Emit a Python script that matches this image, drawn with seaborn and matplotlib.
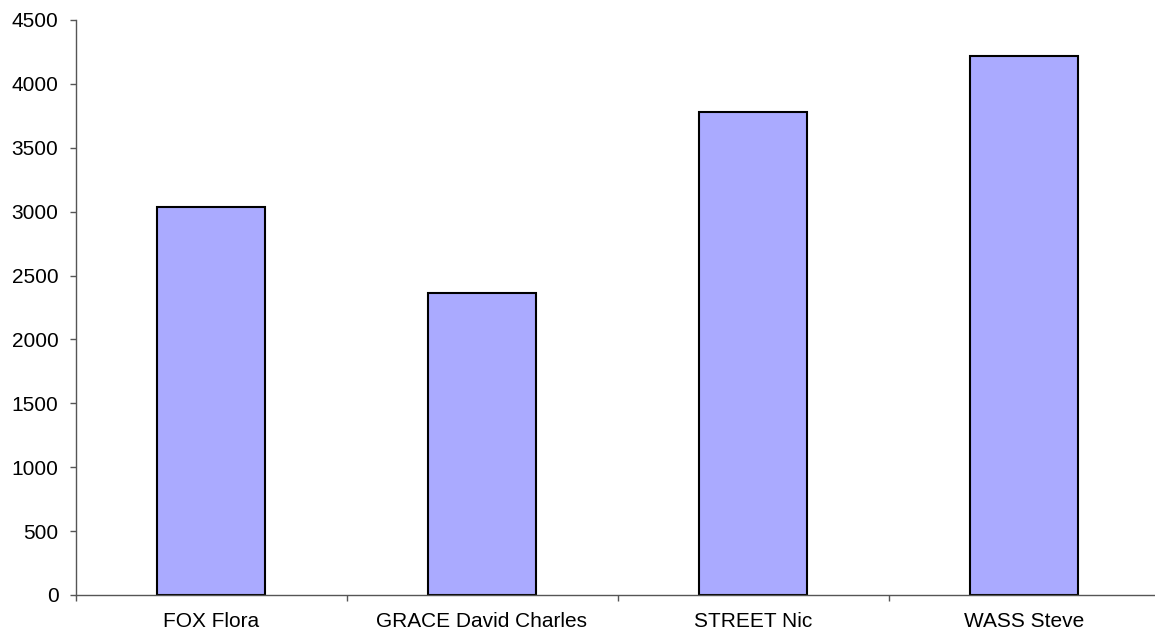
import numpy as np
import pandas as pd
import seaborn as sns
import matplotlib.pyplot as plt
from matplotlib.ticker import FixedLocator, MultipleLocator


#données du graphique
noms = ['FOX Flora', 'GRACE David Charles', 'STREET Nic', 'WASS Steve']
valeurs = [3040, 2360, 3780, 4215]

df = pd.DataFrame({'nom': noms, 'valeur': valeurs})

sns.set_style('white')
plt.rcParams['font.family'] = ['Liberation Sans', 'DejaVu Sans']
plt.rcParams['text.color'] = 'black'
plt.rcParams['xtick.color'] = 'black'
plt.rcParams['ytick.color'] = 'black'

fig = plt.figure(figsize=(11.55, 6.32), dpi=100)
#l'axe des x déborde un peu à droite de l'image, comme sur l'original
ax = fig.add_axes([75.5 / 1155, 1 - 595 / 632, 1084 / 1155, (595 - 20) / 632])

sns.barplot(data=df, x='nom', y='valeur', color='#aaaaff', edgecolor='black',
            linewidth=1.5, width=0.395, saturation=1, ax=ax)

ax.set_xlim(-0.5, len(noms) - 0.5)
ax.set_ylim(0, 4500)
ax.yaxis.set_major_locator(MultipleLocator(500))
ax.set_xlabel('')
ax.set_ylabel('')

#axes : seulement à gauche et en bas
for s in ['top', 'right']:
    ax.spines[s].set_visible(False)
for s in ['left', 'bottom']:
    ax.spines[s].set_color('#555555')
    ax.spines[s].set_linewidth(1)

#ticks x entre les catégories
ax.xaxis.set_minor_locator(FixedLocator(np.arange(-0.5, len(noms), 1)))
ax.tick_params(axis='x', which='major', length=0, pad=12, labelsize=15, labelcolor='black')
ax.tick_params(axis='x', which='minor', length=4.3, width=1, color='#555555', direction='out', bottom=True)
ax.tick_params(axis='y', which='major', length=4.3, width=1, color='#555555', direction='out', left=True,
               labelsize=15, pad=8, labelcolor='black')

fig.savefig('out.png', dpi=100)
